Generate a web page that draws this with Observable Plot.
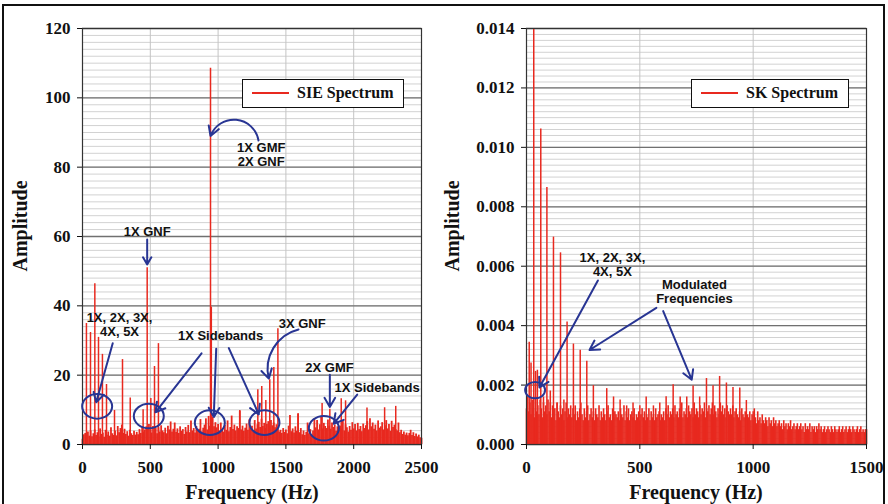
<!DOCTYPE html>
<html><head><meta charset="utf-8">
<script src="https://cdn.jsdelivr.net/npm/d3@7"></script>
<script src="https://cdn.jsdelivr.net/npm/@observablehq/plot@0.6"></script>
<style>
body{margin:0;background:#fff;}
#wrap{position:relative;width:888px;height:504px;overflow:hidden;font-family:"Liberation Serif",serif;color:#111;}
#border{position:absolute;left:2px;top:4px;width:879px;height:520px;border:2px solid #111;pointer-events:none;}
.panel{position:absolute;top:0;}
.ytitle{position:absolute;font-weight:bold;font-size:20px;transform:translate(-50%,-50%) rotate(-90deg);white-space:nowrap;}
.xtitle{position:absolute;font-weight:bold;font-size:20px;line-height:22px;transform:translateX(-50%);white-space:nowrap;}
.legend{position:absolute;box-sizing:border-box;border:1.5px solid #111;background:#fff;height:29px;}
.legend .ln{position:absolute;top:12px;height:2px;background:#e8291f;}
.legend .tx{position:absolute;top:4px;font-weight:bold;font-size:16px;line-height:18px;white-space:nowrap;}
</style>
</head><body>
<div id="wrap">
  <div id="left" class="panel" style="left:0"></div>
  <div id="right" class="panel" style="left:444px"></div>
  <div class="ytitle" style="left:20px;top:226px">Amplitude</div>
  <div class="ytitle" style="left:452px;top:226px">Amplitude</div>
  <div class="xtitle" style="left:252px;top:481px">Frequency (Hz)</div>
  <div class="xtitle" style="left:696px;top:481px">Frequency (Hz)</div>
  <div class="legend" style="left:242px;top:79px;width:162px"><div class="ln" style="left:9px;width:37px"></div><div class="tx" style="left:54px">SIE Spectrum</div></div>
  <div class="legend" style="left:691px;top:79px;width:158px"><div class="ln" style="left:9px;width:37px"></div><div class="tx" style="left:54px">SK Spectrum</div></div>
  <div id="border"></div>
</div>
<script>
// ---------------- SIE spectrum (left) ----------------
const sieNoiseStep = 10; // Hz between noise-floor samples, starting at 0 Hz
const sieNoise = [
  1.5,2.8,3.2,2.1,3.6,2.4,3.9,2.2,3.1,4.2,
  2.6,3.4,2.2,4.5,2.9,3.3,2.1,4.1,2.7,3.6,
  2.4,4.8,3.1,2.6,3.9,2.5,5.2,3.4,4.6,5.6,
  3.2,4.4,2.9,3.7,2.4,4.1,3.1,2.6,3.8,2.7,
  3.5,2.8,4.3,3.2,4.9,3.6,4.2,5.1,4.4,5.8,
  4.1,3.3,5.2,3.8,4.6,3.1,4.8,3.6,5.4,3.9,
  3.4,4.7,3.1,5.3,4.2,6.5,3.6,4.4,6.2,3.5,
  4.5,3.2,5.1,3.8,4.3,2.9,4.9,3.6,5.5,3.4,
  6.8,3.9,4.6,3.3,5.2,3.8,4.4,7.2,3.6,4.7,
  5.6,7.4,4.2,8.1,5.3,4.6,7.9,5.1,6.3,4.8,
  5.8,3.9,6.2,4.4,3.6,5.5,4.1,6.8,3.7,4.9,
  8.2,4.3,5.6,3.9,5.1,4.6,9.6,4.2,5.3,3.8,
  4.7,5.9,4.1,7.1,4.8,5.3,3.9,6.9,4.5,5.7,
  6.4,4.9,7.3,5.2,6.1,4.6,5.8,6.6,5.1,6.9,
  5.4,6.2,4.8,5.7,4.3,3.6,4.1,3.2,4.6,3.5,
  4.2,3.1,5.3,8.4,3.7,4.5,3.3,5.1,3.8,8.8,
  3.4,4.6,2.8,3.9,2.6,3.5,6.2,3.1,4.3,2.7,
  3.9,7.4,4.8,6.9,4.2,5.7,7.8,4.5,6.1,5.2,
  4.6,7.1,5.3,4.4,6.2,4.9,5.6,3.8,5.1,4.7,
  5.3,4.4,6.8,3.9,5.7,4.8,3.6,5.2,4.1,6.3,
  4.5,5.8,3.9,6.1,4.3,5.2,3.7,5.9,4.6,5.4,
  6.6,4.2,7.4,5.1,6.2,4.4,5.6,3.9,6.8,4.7,
  5.1,6.3,4.2,5.4,6.9,4.5,5.8,3.8,6.7,4.9,
  5.6,4.3,3.9,6.2,3.4,4.1,2.9,3.6,2.7,3.3,
  2.5,3.2,4.1,2.6,3.4,2.3,3.0,2.2,2.7,1.9,
  1.8
];
const siePeakFreq = [29,59,91,118,147,177,236,295,352,447,477,504,531,560,944,950,
  1293,1322,1352,1381,1411,1441,1767,1824,1908,1940,2098,2228,2310,1590,1160];
const siePeakAmp  = [34.9,32.3,46.4,30.9,26.0,17.3,9.8,24.5,13.4,10.0,51.0,13.3,22.5,29.1,108.5,39.6,
  15.8,16.7,12.7,18.7,22.2,33.4,11.8,10.2,13.2,12.6,10.5,10.6,11.0,8.9,9.8];
const sieXTicks = [0,500,1000,1500,2000,2500];
const sieYTicks = [0,20,40,60,80,100,120];

const sieLabelText = ["1X GNF","1X GMF\n2X GNF","1X, 2X, 3X,\n4X, 5X","1X Sidebands","3X GNF","2X GMF","1X Sidebands"];
const sieLabelX    = [477,1318,273,1018,1620,1822,2173];
const sieLabelY    = [61.4,83.7,34.7,31.4,34.8,22.1,16.5];
const sieArrowX1 = [477,223,878,986,1079,1824,2026];
const sieArrowY1 = [59.1,29.2,26.3,27.6,27.8,20.1,14.4];
const sieArrowX2 = [477,101,538,968,1300,1824,1853];
const sieArrowY2 = [51.9,12.2,9.3,7.9,8.7,10.8,6.0];
const sieCurveX1 = [1298], sieCurveY1 = [87.7], sieCurveX2 = [944], sieCurveY2 = [89.0];
const sieCurve2X1 = [1593], sieCurve2Y1 = [33.2], sieCurve2X2 = [1374], sieCurve2Y2 = [19.0];
const sieRingX = [108,489,939,1342,1780];
const sieRingY = [11.0,8.2,6.3,6.3,4.7];

// ---------------- SK spectrum (right) ----------------
const skNoiseStep = 5;
const skNoise = [
  0.0012,0.0016,0.0011,0.0014,0.0010,0.0015,0.0012,0.0009,0.0016,0.0011,0.0013,0.0010,0.0015,0.0012,0.0009,0.0014,0.0011,0.0013,0.0010,0.0015,
  0.0011,0.0014,0.0009,0.0013,0.0010,0.0012,0.0008,0.0014,0.0011,0.0009,0.0013,0.0010,0.0012,0.0008,0.0011,0.0014,0.0009,0.0012,0.0010,0.0013,
  0.0009,0.0012,0.0010,0.0013,0.0008,0.0011,0.0009,0.0012,0.0014,0.0010,0.0008,0.0012,0.0009,0.0011,0.0013,0.0008,0.0010,0.0012,0.0009,0.0011,
  0.0008,0.0012,0.0010,0.0009,0.0013,0.0008,0.0011,0.0009,0.0012,0.0010,0.0008,0.0011,0.0013,0.0009,0.0010,0.0008,0.0012,0.0009,0.0011,0.0010,
  0.0009,0.0011,0.0008,0.0012,0.0010,0.0009,0.0013,0.0008,0.0011,0.0009,0.0012,0.0008,0.0010,0.0011,0.0009,0.0012,0.0008,0.0010,0.0009,0.0011,
  0.0008,0.0010,0.0012,0.0009,0.0011,0.0008,0.0010,0.0009,0.0012,0.0008,0.0011,0.0009,0.0010,0.0008,0.0012,0.0009,0.0010,0.0011,0.0008,0.0010,
  0.0009,0.0011,0.0008,0.0012,0.0010,0.0013,0.0009,0.0011,0.0010,0.0012,0.0009,0.0013,0.0010,0.0011,0.0009,0.0012,0.0010,0.0014,0.0009,0.0011,
  0.0010,0.0012,0.0009,0.0013,0.0011,0.0010,0.0012,0.0009,0.0014,0.0010,0.0012,0.0011,0.0009,0.0013,0.0010,0.0012,0.0011,0.0014,0.0009,0.0012,
  0.0011,0.0013,0.0010,0.0012,0.0014,0.0010,0.0013,0.0011,0.0009,0.0012,0.0010,0.0014,0.0011,0.0013,0.0010,0.0012,0.0009,0.0013,0.0011,0.0010,
  0.0012,0.0010,0.0013,0.0009,0.0011,0.0012,0.0010,0.0009,0.0011,0.0008,0.0012,0.0010,0.0009,0.0011,0.0008,0.0010,0.0009,0.0011,0.0008,0.0010,
  0.0008,0.0012,0.0009,0.0007,0.0011,0.0008,0.0009,0.0007,0.0010,0.0008,0.0007,0.0009,0.0008,0.0006,0.0009,0.0007,0.0008,0.0006,0.0009,0.0007,
  0.0008,0.0006,0.0007,0.0008,0.0006,0.0007,0.0005,0.0008,0.0006,0.0007,0.0005,0.0007,0.0006,0.0008,0.0005,0.0006,0.0007,0.0005,0.0006,0.0007,
  0.0005,0.0006,0.0007,0.0005,0.0006,0.0004,0.0007,0.0005,0.0006,0.0005,0.0007,0.0004,0.0006,0.0005,0.0006,0.0004,0.0006,0.0005,0.0007,0.0005,
  0.0006,0.0004,0.0005,0.0006,0.0004,0.0005,0.0006,0.0005,0.0004,0.0006,0.0005,0.0004,0.0006,0.0005,0.0004,0.0005,0.0006,0.0004,0.0005,0.0006,
  0.0004,0.0005,0.0006,0.0004,0.0005,0.0006,0.0005,0.0004,0.0006,0.0005,0.0004,0.0005,0.0006,0.0004,0.0005,0.0006,0.0004,0.0005,0.0004,0.0005,
  0.0005
];
const skPeakFreq = [12,20,32,40,48,63,75,90,105,119,135,150,165,179,207,237,266,295,354,384,413,442,470,500,528,560,588,616,647,678,707,735,764,794,823,852,882,911,941,970,1000];
const skPeakAmp  = [0.00344,0.00274,0.0140,0.00246,0.00250,0.01062,0.00160,0.00865,0.00180,0.00698,0.00140,0.00645,0.00150,0.00412,0.00338,0.00317,0.00280,0.00198,0.00188,0.00160,0.00150,0.00130,0.00140,0.00130,0.00160,0.00130,0.00140,0.00161,0.00201,0.00160,0.00160,0.00197,0.00160,0.00222,0.00198,0.00229,0.00207,0.00192,0.00190,0.00148,0.00110];
const skXTicks = [0,500,1000,1500];
const skYTicks = [0,0.002,0.004,0.006,0.008,0.010,0.012,0.014];

const skLabelText = ["1X, 2X, 3X,\n4X, 5X","Modulated\nFrequencies"];
const skLabelX = [379,741];
const skLabelY = [0.00607,0.00515];
const skArrowX1 = [315,573,603];
const skArrowY1 = [0.00552,0.00460,0.00449];
const skArrowX2 = [57,278,729];
const skArrowY2 = [0.00192,0.00318,0.00218];
const skRingX = [38];
const skRingY = [0.00183];

// ---------------- helpers ----------------
const RED = "#e8291f", BLUE = "#283593";
const ellipse = {draw(ctx, size){
  const r = Math.sqrt(size/Math.PI), rx = r, ry = r*0.82, k = 0.5523;
  ctx.moveTo(rx,0);
  ctx.bezierCurveTo(rx,ry*k,rx*k,ry,0,ry);
  ctx.bezierCurveTo(-rx*k,ry,-rx,ry*k,-rx,0);
  ctx.bezierCurveTo(-rx,-ry*k,-rx*k,-ry,0,-ry);
  ctx.bezierCurveTo(rx*k,-ry,rx,-ry*k,rx,0);
  ctx.closePath();
}};
const zip = (keys, ...arrs) => arrs[0].map((_, i) => Object.fromEntries(keys.map((k, j) => [k, arrs[j][i]])));

function panel({noise, step, pf, pa, xDomain, yDomain, xTicks, yTicks, yFmt, minorStep,
                labels, arrows, curves, rings, ringR, marginRight}) {
  const noiseRows = noise.map((a, i) => ({f: i*step, a}));
  const peakRows = zip(["f","a"], pf, pa);
  const minor = d3.range(yDomain[0], yDomain[1] + minorStep/2, minorStep);
  const marks = [
    Plot.ruleY(minor, {stroke: "#d2d2d2", strokeWidth: 1}),
    Plot.ruleX(xTicks, {stroke: "#c4c4c4", strokeWidth: 1}),
    Plot.ruleY(yTicks, {stroke: "#707070", strokeWidth: 1.3}),
    Plot.ruleX(noiseRows, {x: "f", y1: 0, y2: "a", stroke: RED, strokeWidth: step === 10 ? 1.8 : 1.6}),
    Plot.ruleX(peakRows, {x: "f", y1: 0, y2: "a", stroke: RED, strokeWidth: 1.5}),
    Plot.frame({stroke: "#333", strokeWidth: 1.2}),
    Plot.axisX({ticks: xTicks, tickSize: 5, tickPadding: 11, label: null, tickFormat: d => String(d)}),
    Plot.axisY({ticks: yTicks, tickSize: 5, tickPadding: 7, label: null, tickFormat: yFmt}),
    Plot.dot(rings, {x: "x", y: "y", symbol: ellipse, r: ringR, fill: "none", stroke: BLUE, strokeWidth: 2}),
    Plot.arrow(arrows, {x1: "x1", y1: "y1", x2: "x2", y2: "y2", stroke: BLUE, strokeWidth: 2, headLength: 8}),
    Plot.text(labels, {x: "x", y: "y", text: "t", fontFamily: "Liberation Sans, Arial, sans-serif",
      fontSize: 13, fontWeight: "bold", fill: "#111", lineHeight: 1.1})
  ];
  for (const c of curves) marks.push(Plot.arrow(c.data, {x1: "x1", y1: "y1", x2: "x2", y2: "y2", bend: c.bend, stroke: BLUE, strokeWidth: 2, headLength: 8}));
  return Plot.plot({
    width: 444, height: 504,
    marginLeft: 82, marginRight, marginTop: 28, marginBottom: 60,
    x: {domain: xDomain}, y: {domain: yDomain},
    style: {fontFamily: "Liberation Serif, serif", fontSize: "17px", fontWeight: "bold", color: "#111", background: "transparent", overflow: "visible"},
    marks
  });
}

document.getElementById("left").append(panel({
  noise: sieNoise, step: sieNoiseStep, pf: siePeakFreq, pa: siePeakAmp,
  xDomain: [0,2500], yDomain: [0,120], xTicks: sieXTicks, yTicks: sieYTicks, yFmt: d => String(d), minorStep: 2,
  labels: zip(["t","x","y"], sieLabelText, sieLabelX, sieLabelY),
  arrows: zip(["x1","y1","x2","y2"], sieArrowX1, sieArrowY1, sieArrowX2, sieArrowY2),
  curves: [
    {data: zip(["x1","y1","x2","y2"], sieCurveX1, sieCurveY1, sieCurveX2, sieCurveY2), bend: -75},
    {data: zip(["x1","y1","x2","y2"], sieCurve2X1, sieCurve2Y1, sieCurve2X2, sieCurve2Y2), bend: -45}
  ],
  rings: zip(["x","y"], sieRingX, sieRingY), ringR: 15, marginRight: 23
}));
document.getElementById("right").append(panel({
  noise: skNoise, step: skNoiseStep, pf: skPeakFreq, pa: skPeakAmp,
  xDomain: [0,1500], yDomain: [0,0.014], xTicks: skXTicks, yTicks: skYTicks, yFmt: d3.format(".3f"), minorStep: 0.0002,
  labels: zip(["t","x","y"], skLabelText, skLabelX, skLabelY),
  arrows: zip(["x1","y1","x2","y2"], skArrowX1, skArrowY1, skArrowX2, skArrowY2),
  curves: [],
  rings: zip(["x","y"], skRingX, skRingY), ringR: 10, marginRight: 22
}));
</script>
</body></html>
